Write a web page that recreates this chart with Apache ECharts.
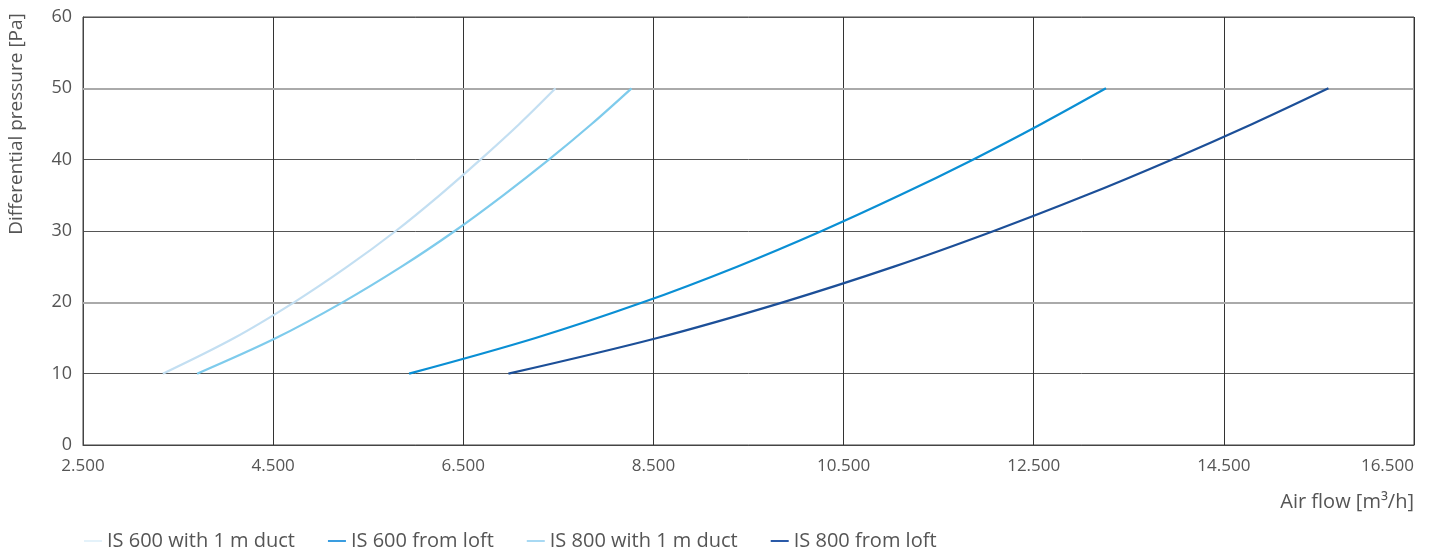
<!DOCTYPE html>
<html>
<head>
<meta charset="utf-8">
<script src="https://cdn.jsdelivr.net/npm/echarts@6/dist/echarts.min.js"></script>
<style>
html,body{margin:0;padding:0;background:#fff;}
#chart{width:1432px;height:549px;}
</style>
</head>
<body>
<div id="chart"></div>
<script>
// Values
const seriesNames = ['IS 600 with 1 m duct', 'IS 600 from loft', 'IS 800 with 1 m duct', 'IS 800 from loft'];
const pressure = [10, 15, 20, 25, 30, 35, 40, 45, 50];
// Air flow [m3/h] at each pressure level, per curve
const flowIS600duct = [3340, 4090, 4720, 5280, 5790, 6250, 6680, 7090, 7470];
const flowIS800duct = [3700, 4530, 5230, 5850, 6410, 6920, 7400, 7850, 8270];
const flowIS600loft = [5930, 7260, 8390, 9380, 10270, 11090, 11860, 12580, 13260];
const flowIS800loft = [6975, 8540, 9860, 11030, 12080, 13050, 13950, 14800, 15600];
const xTicks = [2500, 4500, 6500, 8500, 10500, 12500, 14500, 16500];
const yTicks = [0, 10, 20, 30, 40, 50, 60];

function pairs(flows) { return flows.map((f, i) => [f, pressure[i]]); }
function fmt(v) { return String(v).replace(/\B(?=(\d{3})+(?!\d))/g, '.'); }

const lineColors = {
  'IS 600 with 1 m duct': '#c3dff2',
  'IS 600 from loft': '#0a8fd4',
  'IS 800 with 1 m duct': '#7ecbec',
  'IS 800 from loft': '#1c4f98'
};
const legendColors = {
  'IS 600 with 1 m duct': '#e4f2fa',
  'IS 600 from loft': '#3a9de0',
  'IS 800 with 1 m duct': '#a8d9f3',
  'IS 800 from loft': '#2a5aa8'
};
const dataMap = {
  'IS 600 with 1 m duct': flowIS600duct,
  'IS 600 from loft': flowIS600loft,
  'IS 800 with 1 m duct': flowIS800duct,
  'IS 800 from loft': flowIS800loft
};

const chart = echarts.init(document.getElementById('chart'));
const font = '"Open Sans", "Noto Sans", sans-serif';

const series = seriesNames.map(n => ({
  name: n,
  type: 'line',
  smooth: 0.35,
  showSymbol: false,
  symbol: 'none',
  data: pairs(dataMap[n]),
  lineStyle: { color: lineColors[n], width: 2.2 },
  itemStyle: { color: legendColors[n] },
  z: 5
}));
series.push({
  type: 'line', data: [], silent: true,
  markLine: {
    silent: true, symbol: 'none', label: { show: false },
    lineStyle: { color: '#aaaaaa', width: 2, type: 'solid' },
    data: [{ yAxis: 20 }, { yAxis: 50 }]
  },
  z: 2
});

chart.setOption({
  animation: false,
  backgroundColor: '#fff',
  grid: { left: 83, right: 18, top: 17, bottom: 104, outerBoundsMode: 'none', containLabel: false,
          show: true, borderColor: '#444', borderWidth: 1, backgroundColor: 'transparent' },
  legend: {
    data: seriesNames,
    left: 79, top: 526,
    itemWidth: 18, itemHeight: 2, itemGap: 33,
    icon: 'rect',
    textStyle: { color: '#555', fontSize: 20, fontFamily: font }
  },
  xAxis: {
    type: 'value', min: 2500, max: 16500, interval: 2000,
    axisLine: { show: true, lineStyle: { color: '#444' } },
    axisTick: { show: false },
    axisLabel: { color: '#555', fontSize: 17, fontFamily: font, margin: 13, alignMaxLabel: 'right', formatter: v => fmt(v) },
    splitLine: { show: true, lineStyle: { color: '#333', width: 1 } }
  },
  yAxis: {
    type: 'value', min: 0, max: 60, interval: 10,
    axisLine: { show: true, lineStyle: { color: '#444' } },
    axisTick: { show: false },
    axisLabel: { color: '#555', fontSize: 18, fontFamily: font, margin: 11 },
    splitLine: { show: true, lineStyle: { color: ['#555', '#555', '#aaa'], width: 1 } }
  },
  graphic: [
    { type: 'text', x: 17, y: 124, rotation: Math.PI / 2,
      style: { text: 'Differential pressure [Pa]', fill: '#555', font: '19px "Open Sans", "Noto Sans", sans-serif', align: 'center', verticalAlign: 'middle' } },
    { type: 'text', right: 18, top: 492,
      style: { text: 'Air flow [m³/h]', fill: '#555', font: '20px "Open Sans", "Noto Sans", sans-serif' } }
  ],
  series: series
});
</script>
</body>
</html>
